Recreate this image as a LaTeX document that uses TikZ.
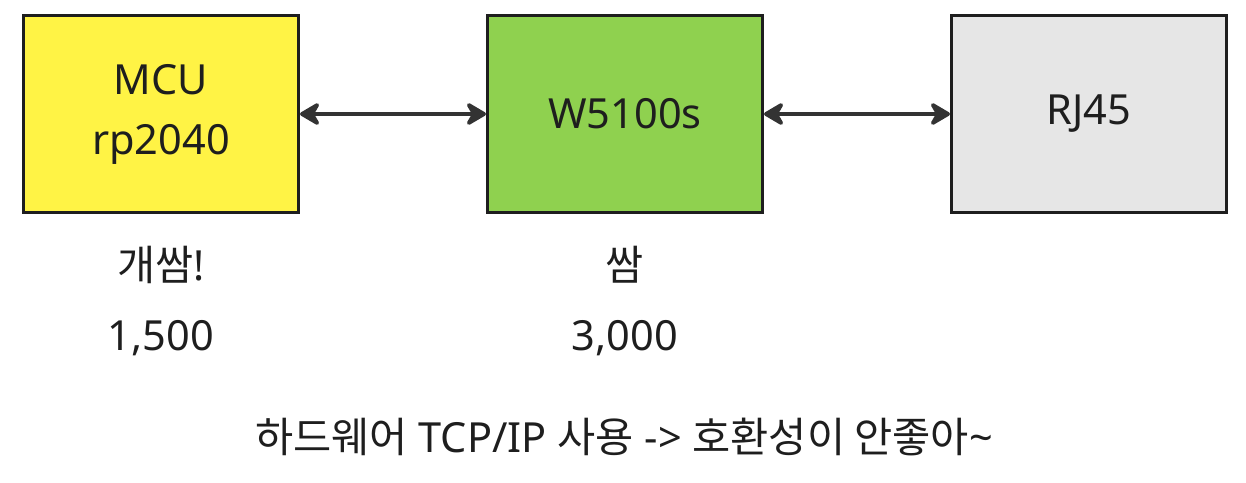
\documentclass[tikz,border=0pt]{standalone}
\usepackage{fontspec}
\setmainfont{Noto Sans}
\newfontfamily\kr{Noto Sans CJK KR}
\usepackage{tikz}
\usepackage{xcolor}
\usetikzlibrary{arrows.meta, positioning}

\definecolor{mcuyellow}{HTML}{FFF345}
\definecolor{chipgreen}{HTML}{8FD14F}
\definecolor{jackgray}{HTML}{E6E6E6}
\definecolor{outline}{HTML}{1E1E1E}
\definecolor{wire}{HTML}{333333}

\tikzset{
    block/.style={draw=outline, line width=3pt, minimum width=275pt, minimum height=197pt,
        align=center, font=\fontsize{41.5}{60}\selectfont, text=outline},
    note/.style={font=\fontsize{41.5}{48}\selectfont, text=outline},
    link/.style={wire, line width=3.8pt, {Stealth[round, length=24pt, width=28pt, inset=8pt]}-{Stealth[round, length=24pt, width=28pt, inset=8pt]}}
}

\begin{document}
\begin{tikzpicture}[x=1pt, y=-1pt]
    \useasboundingbox (0, 0) rectangle (1246, 482);
    \node[block, fill=mcuyellow] (mcu) at (161, 114) {MCU\\rp2040};
    \node[block, fill=chipgreen] (w5100) at (625, 114) {W5100s};
    \node[block, fill=jackgray] (rj45) at (1089, 114) {RJ45};
    \draw[link] (mcu) -- (w5100);
    \draw[link] (w5100) -- (rj45);
    \node[note] (mcuprice) at (161, 265) {{\kr 개쌈}!};
    \node[note] (mcucost) at (161, 338) {1,500};
    \node[note] (chipprice) at (625, 265) {\kr 쌈};
    \node[note] (chipcost) at (625, 338) {3,000};
    \node[note] (remark) at (624, 437) {{\kr 하드웨어} TCP/IP {\kr 사용} -> {\kr 호환성이 안좋아}\textasciitilde};
\end{tikzpicture}
\end{document}
